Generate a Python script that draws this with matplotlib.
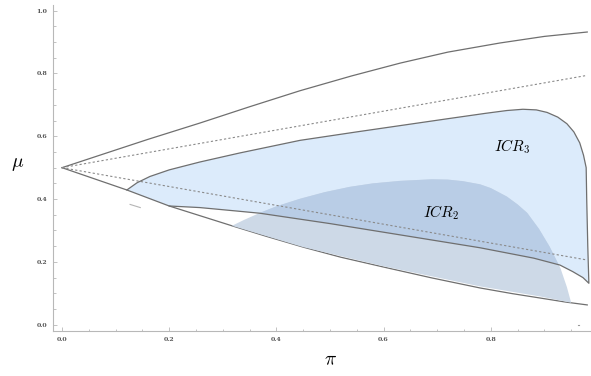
import matplotlib
matplotlib.use("Agg")
import matplotlib.pyplot as plt
from matplotlib.patches import Polygon
from matplotlib.ticker import MultipleLocator

plt.rcParams["mathtext.fontset"] = "cm"

# outer boundary curves from (0, 0.5)
upper_x = [0, 0.071, 0.16, 0.257, 0.35, 0.444, 0.54, 0.631, 0.72, 0.817, 0.90, 0.98]
upper_y = [0.5, 0.54, 0.59, 0.642, 0.694, 0.745, 0.792, 0.833, 0.868, 0.897, 0.918, 0.932]

bottom_x = [0, 0.121, 0.2, 0.317, 0.38, 0.45, 0.52, 0.599, 0.69, 0.78, 0.84, 0.892, 0.94, 0.98]
bottom_y = [0.5, 0.429, 0.378, 0.315, 0.282, 0.247, 0.215, 0.184, 0.149, 0.117, 0.099,
            0.085, 0.072, 0.063]

# dotted guide lines
guide_x = [0, 0.98]
guide_up = [0.5, 0.794]
guide_dn = [0.5, 0.206]

# ICR3: top edge, right edge, then lower edge back to the left
icr3_top_x = [0.121, 0.14, 0.164, 0.2, 0.257, 0.332, 0.444, 0.55, 0.631, 0.72, 0.79,
              0.83, 0.86, 0.885, 0.905, 0.925, 0.942, 0.955, 0.966, 0.973, 0.978]
icr3_top_y = [0.429, 0.452, 0.472, 0.493, 0.518, 0.547, 0.587, 0.614, 0.634, 0.656, 0.673,
              0.682, 0.686, 0.684, 0.676, 0.661, 0.64, 0.614, 0.579, 0.54, 0.50]
icr3_right_x = [0.979, 0.981, 0.983]
icr3_right_y = [0.40, 0.25, 0.132]
mid_x = [0.983, 0.972, 0.953, 0.929, 0.88, 0.78, 0.631, 0.5, 0.369, 0.332, 0.257, 0.2]
mid_y = [0.132, 0.15, 0.169, 0.19, 0.212, 0.245, 0.286, 0.322, 0.355, 0.361, 0.373, 0.378]

# ICR2: dome on top, bottom edge back to the tip
icr2_top_x = [0.317, 0.34, 0.369, 0.4, 0.444, 0.49, 0.537, 0.58, 0.631, 0.69, 0.72, 0.748,
              0.78, 0.8, 0.83, 0.85, 0.868, 0.89, 0.91, 0.93, 0.942, 0.95]
icr2_top_y = [0.315, 0.334, 0.356, 0.377, 0.401, 0.422, 0.439, 0.45, 0.458, 0.463, 0.462,
              0.457, 0.447, 0.435, 0.408, 0.383, 0.356, 0.305, 0.248, 0.18, 0.12, 0.07]
icr2_bot_x = [0.95, 0.892, 0.78, 0.6, 0.45, 0.317]
icr2_bot_y = [0.07, 0.09, 0.122, 0.186, 0.247, 0.315]

line_col = "#6f6f6f"
dot_col = "#8a8a8a"

fig = plt.figure(figsize=(5.91, 3.76), dpi=100)
ax = fig.add_axes([0.0897, 0.1197, 0.9103, 0.867])

# ICR3 region
icr3_pts = (list(zip(icr3_top_x, icr3_top_y)) + list(zip(icr3_right_x, icr3_right_y))
            + list(zip(mid_x, mid_y)) + [(0.121, 0.429)])
icr3 = Polygon(icr3_pts, closed=True, facecolor="#dcebfb", edgecolor="none", zorder=1)
ax.add_patch(icr3)

# bottom boundary sits under the ICR2 fill
ax.plot(bottom_x, bottom_y, color=line_col, lw=0.9, zorder=2)

# ICR2 region, darker where it overlaps ICR3
icr2_pts = list(zip(icr2_top_x, icr2_top_y)) + list(zip(icr2_bot_x, icr2_bot_y))
ax.add_patch(Polygon(icr2_pts, closed=True, facecolor="#cdd9e7", edgecolor="none", zorder=3))
overlap = Polygon(icr2_pts, closed=True, facecolor="#b9cde6", edgecolor="none", zorder=4)
ax.add_patch(overlap)
overlap.set_clip_path(icr3)

# lines on top
ax.plot(upper_x, upper_y, color=line_col, lw=0.9, zorder=5)
ax.plot(guide_x, guide_up, color=dot_col, lw=0.8, ls=(0, (2, 2)), zorder=5)
ax.plot(guide_x, guide_dn, color=dot_col, lw=0.8, ls=(0, (2, 2)), zorder=5)
ax.plot(icr3_top_x + icr3_right_x + mid_x, icr3_top_y + icr3_right_y + mid_y,
        color=line_col, lw=0.9, zorder=5)
ax.plot([0.127, 0.146], [0.383, 0.373], color="#b5b5b5", lw=0.8, zorder=5)
ax.plot([0.962, 0.965], [-0.001, -0.001], color="#9a9a9a", lw=0.8, zorder=5)

ax.text(0.84, 0.568, r"$ICR_3$", fontsize=11, ha="center", va="center", zorder=6)
ax.text(0.707, 0.356, r"$ICR_2$", fontsize=11, ha="center", va="center", zorder=6)

ax.set_xlim(-0.0168, 0.987)
ax.set_ylim(-0.02, 1.018)

for s in ["top", "right"]:
    ax.spines[s].set_visible(False)
for s in ["left", "bottom"]:
    ax.spines[s].set_color("#b8b8b8")
    ax.spines[s].set_linewidth(0.8)

ax.xaxis.set_minor_locator(MultipleLocator(0.05))
ax.yaxis.set_minor_locator(MultipleLocator(0.05))
ax.set_xticks([0, 0.2, 0.4, 0.6, 0.8])
ax.set_xticklabels(["0.0", "0.2", "0.4", "0.6", "0.8"])
ax.set_yticks([0, 0.2, 0.4, 0.6, 0.8, 1.0])
ax.set_yticklabels(["0.0", "0.2", "0.4", "0.6", "0.8", "1.0"])
ax.tick_params(which="both", direction="in", color="#b8b8b8", width=0.6)
ax.tick_params(which="major", length=3, labelsize=4.5, labelcolor="#555555", pad=4)
ax.tick_params(which="minor", length=1.8)
for lab in ax.get_xticklabels() + ax.get_yticklabels():
    lab.set_family("DejaVu Serif")
    lab.set_fontweight("bold")

fig.text(18 / 591, 1 - 163 / 376, r"$\mu$", fontsize=14, ha="center", va="center")
fig.text(330 / 591, 1 - 360 / 376, r"$\pi$", fontsize=14, ha="center", va="center")

fig.savefig("out.png", dpi=100)
